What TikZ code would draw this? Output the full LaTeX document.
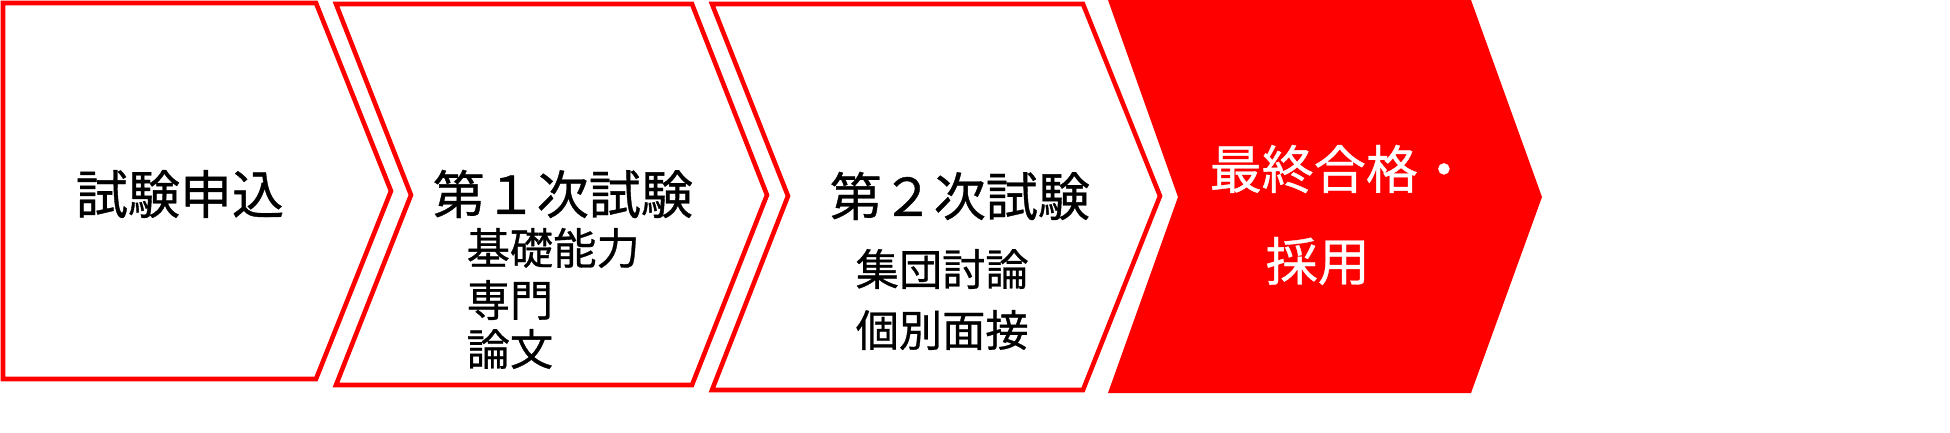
\documentclass[tikz,border=0pt]{standalone}
\usepackage{fontspec}
\newfontfamily\jp[FakeBold=0.7]{Noto Sans CJK JP}
\begin{document}
\begin{tikzpicture}[x=0.01cm, y=-0.01cm,
		box/.style = {draw=red, line width=1.3pt, fill=white, line join=miter},
		last/.style = {fill=red},
		big/.style = {inner sep=0pt, anchor=west, font={\jp\fontsize{14.8pt}{16pt}\selectfont}},
		small/.style = {inner sep=0pt, anchor=west, font={\jp\fontsize{12.3pt}{14pt}\selectfont}}]
		\useasboundingbox (0,0) rectangle (1950,433);
		% chevrons
		\draw[box] (3,3) -- (316,3) -- (391,191) -- (316,379) -- (3,379) -- cycle;
		\draw[box] (336,4) -- (692,4) -- (767,195) -- (692,385) -- (336,385) -- (411,195) -- cycle;
		\draw[box] (712,4) -- (1083,4) -- (1160,196) -- (1083,390) -- (712,390) -- (788,196) -- cycle;
		\fill[last] (1108,0) -- (1471,0) -- (1542,197) -- (1471,393) -- (1108,393) -- (1178,197) -- cycle;
		% labels
		\node[big, anchor=center] (1) at (180,194) {試験申込};
		\node[big] (2) at (432,194) {第１次試験};
		\node[small] (2a) at (466,248) {基礎能力};
		\node[small] (2b) at (466,300) {専門};
		\node[small] (2c) at (466,349) {論文};
		\node[big] (3) at (829,196) {第２次試験};
		\node[small] (3a) at (855,269) {集団討論};
		\node[small] (3b) at (855,330) {個別面接};
		\node[big, text=white] (4) at (1209,169) {最終合格・};
		\node[big, text=white] (4a) at (1265,261) {採用};
	\end{tikzpicture}
\end{document}
